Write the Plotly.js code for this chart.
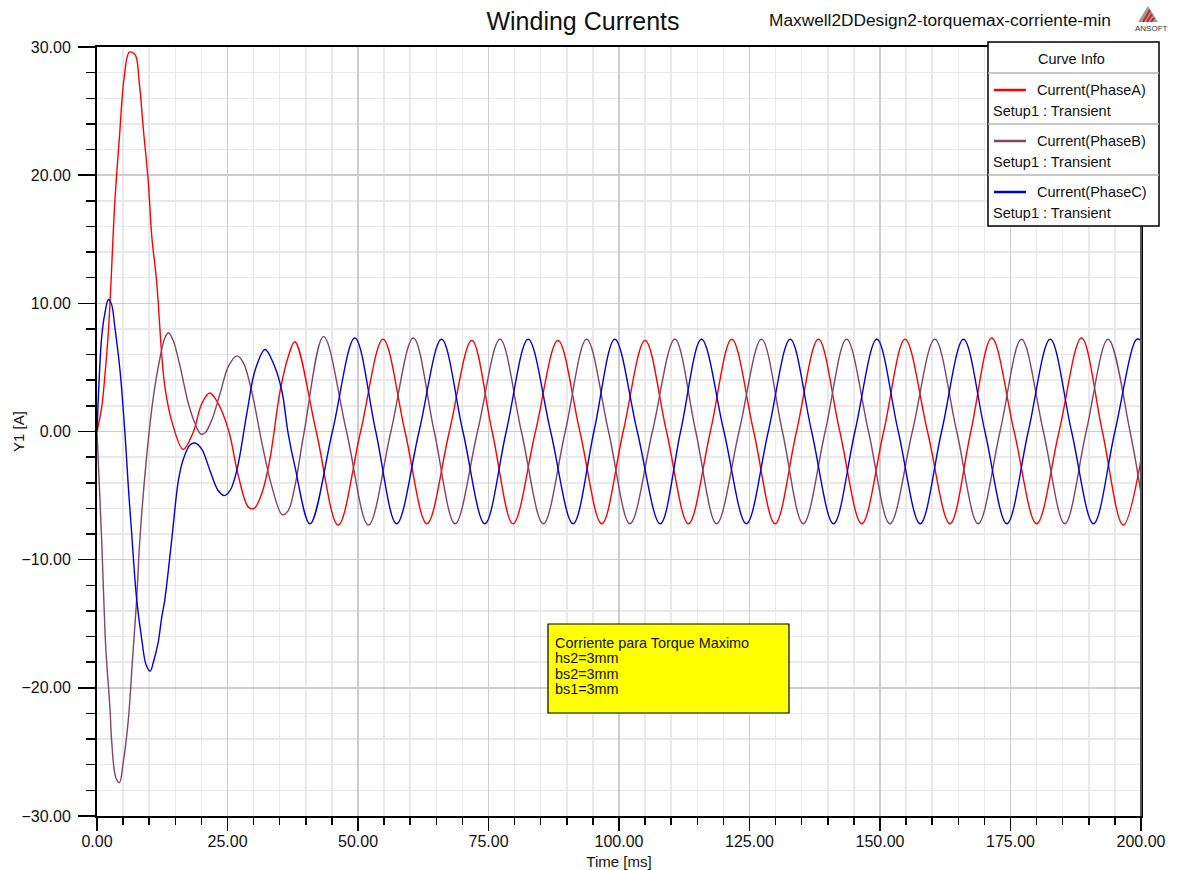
<!DOCTYPE html>
<html><head><meta charset="utf-8">
<script src="https://cdn.plot.ly/plotly-3.0.1.min.js"></script>
<style>html,body{margin:0;padding:0;background:#fff;} #chart{width:1179px;height:870px;}</style>
</head><body><div id="chart"></div>
<script>
// ---- data ----
const seriesNames = ['Current(PhaseA)', 'Current(PhaseB)', 'Current(PhaseC)'];
const setupLabel = 'Setup1 : Transient';
const noteLines = ['Corriente para Torque Maximo', 'hs2=3mm', 'bs2=3mm', 'bs1=3mm'];

const tA = [0,0.9,1.5,2.2,2.7,3.4,4.3,5.2,6.2,7.3,8.1,8.9,9.8,10.5,11.4,13.0,14.6,16.5,18.4,20.1,21.6,23.2,25.2,27.1,29.0,30.1,31.6,33.1,35.1,36.6,37.9,
  42.0,46.2,50.5,54.8,59.0,63.2,67.5,71.8,75.7,79.7,84.0,88.3,92.5,96.7,100.8,105.0,109.1,113.3,117.5,121.6,
  125.8,129.9,134.0,138.2,142.3,146.5,150.7,154.8,159.1,163.4,167.4,171.4,175.7,180.0,184.3,188.6,192.6,196.6,200];
const iA = [0,1.9,4.3,7.9,11.8,17.8,23.0,27.6,29.6,29.4,27.2,23.5,19.6,15.2,11.8,3.5,0.4,-1.4,-0.1,2.2,3.0,2.2,0.1,-3.5,-5.9,-6.0,-4.8,-2.2,3.2,5.8,7.0,
  0,-7.3,0,7.2,0,-7.2,0,7.1,0,-7.2,0,7.1,0,-7.2,0,7.1,0,-7.2,0,7.2,
  0,-7.2,0,7.2,0,-7.2,0,7.2,0,-7.2,0,7.3,0,-7.2,0,7.3,0,-7.3,-2.2];

const tB = [0,0.9,1.3,1.7,2.5,2.8,3.6,4.3,5.0,6.0,6.8,7.6,8.2,9.5,10.8,12.1,13.0,13.7,14.6,15.9,17.5,18.8,19.9,20.7,22.0,23.6,25.2,26.8,28.0,29.6,
  31.6,33.5,35.5,36.6,37.9,39.7,43.4,47.8,52.0,56.3,60.6,64.6,68.6,72.9,77.2,81.3,85.5,89.7,93.8,98.0,102.1,106.4,110.7,114.7,118.7,123.0,
  127.3,131.3,135.3,139.5,143.6,147.8,151.9,156.2,160.5,164.7,168.8,173.0,177.1,181.3,185.4,189.5,193.7,197.9,200];
const iB = [0,-8.5,-13.1,-17.0,-21.7,-24.1,-27.0,-27.4,-25.9,-22.5,-17.8,-13.1,-8.5,-2.0,2.7,5.8,7.3,7.7,7.1,5.1,2.2,0.6,-0.2,-0.1,0.9,3.0,5.1,5.9,5.4,3.2,
  -0.9,-4.3,-6.5,-6.2,-4.3,0,7.4,0,-7.3,0,7.3,0,-7.2,0,7.2,0,-7.2,0,7.2,0,-7.2,0,7.2,0,-7.2,0,
  7.2,0,-7.2,0,7.2,0,-7.2,0,7.2,0,-7.2,0,7.2,0,-7.2,0,7.2,0,-4.8];

const tC = [0,0.9,1.5,2.2,2.8,3.4,4.4,5.4,6.0,6.6,7.6,8.6,9.4,10.2,10.8,11.7,12.4,13.0,14.3,15.6,16.5,17.8,18.8,20.1,21.6,23.2,24.4,25.5,26.8,28.7,
  30.3,32.2,33.8,35.4,36.6,37.9,40.8,45.1,49.4,53.4,57.4,61.7,66.0,70.1,74.3,78.4,82.6,86.9,91.2,95.2,99.2,103.5,107.9,111.8,115.8,120.1,124.4,
  128.6,132.8,136.9,141.1,145.2,149.4,153.5,157.7,161.8,166.0,170.1,174.3,178.4,182.6,186.7,190.9,195.0,199.2,200];
const iC = [0,7.4,9.2,10.3,9.9,8.2,4.8,-0.4,-4.3,-7.7,-13.1,-16.3,-18.2,-18.7,-18.0,-16.5,-14.5,-13.1,-8.5,-3.8,-2.2,-1.05,-0.9,-1.4,-3.0,-4.6,-5.0,-4.6,-3.0,1.4,
  4.8,6.4,5.3,3.2,-0.1,-2.7,-7.2,0,7.3,0,-7.2,0,7.2,0,-7.2,0,7.2,0,-7.2,0,7.2,0,-7.2,0,7.2,0,-7.2,
  0,7.2,0,-7.2,0,7.2,0,-7.2,0,7.2,0,-7.2,0,7.2,0,-7.2,0,7.2,7.1];

// ---- styling ----
const FONT = 'Liberation Sans, Arial, sans-serif';
const colors = ['#ff0000', '#834466', '#0000dd'];
const L = 97, R = 1141, T = 47, B = 816;
function px(x) { return (x - L) / (R - L); }
function py(y) { return (B - y) / (B - T); }

const xs = [tA, tB, tC], ys = [iA, iB, iC];
const traces = xs.map((x, k) => ({
  x: x, y: ys[k], type: 'scatter', mode: 'lines', name: seriesNames[k],
  line: {color: colors[k], width: 1.4, shape: 'spline', smoothing: 1},
  showlegend: false, hoverinfo: 'skip'
}));

const shapes = [];
const annotations = [];

// right border drawn grey as in the reference
shapes.push({type:'line', xref:'paper', yref:'paper', x0:1, x1:1, y0:0, y1:1, line:{color:'#555', width:2}, layer:'above'});

// subtitle & logo
annotations.push({xref:'paper', yref:'paper', x:px(940), y:py(20), text:'Maxwell2DDesign2-torquemax-corriente-min',
  showarrow:false, xanchor:'center', yanchor:'middle', font:{family:FONT, size:17.3, color:'#111'}});
annotations.push({xref:'paper', yref:'paper', x:px(1151), y:py(28.5), text:'ANSOFT',
  showarrow:false, xanchor:'center', yanchor:'middle', font:{family:FONT, size:8, color:'#333'}});
shapes.push({type:'path', xref:'paper', yref:'paper', layer:'above',
  path:`M ${px(1138)},${py(22)} L ${px(1148)},${py(6)} L ${px(1158)},${py(22)} Z`,
  fillcolor:'#9a9a9a', line:{width:0}});
[[1143,22,1150,10],[1147,22,1152,14],[1151,22,1154,18]].forEach(s => shapes.push({type:'line', xref:'paper', yref:'paper',
  x0:px(s[0]), y0:py(s[1]), x1:px(s[2]), y1:py(s[3]), line:{color:'#d42020', width:2}}));

// legend box ("Curve Info")
shapes.push({type:'rect', xref:'paper', yref:'paper', x0:px(988), x1:px(1159), y0:py(42), y1:py(226),
  fillcolor:'#ffffff', line:{color:'#000', width:1.5}, layer:'above'});
[73,124,175].forEach(yy => shapes.push({type:'line', xref:'paper', yref:'paper', x0:px(988), x1:px(1159), y0:py(yy), y1:py(yy),
  line:{color:'#b4b4b4', width:1.5}}));
annotations.push({xref:'paper', yref:'paper', x:px(1071), y:py(59), text:'Curve Info', showarrow:false,
  xanchor:'center', yanchor:'middle', font:{family:FONT, size:14.5, color:'#111'}});
seriesNames.forEach((nm, k) => {
  const y0 = 90 + 51 * k;
  shapes.push({type:'line', xref:'paper', yref:'paper', x0:px(994), x1:px(1026), y0:py(y0), y1:py(y0),
    line:{color:colors[k], width:2.5}});
  annotations.push({xref:'paper', yref:'paper', x:px(1035), y:py(y0), text:nm, showarrow:false,
    xanchor:'left', yanchor:'middle', font:{family:FONT, size:14.5, color:'#111'}});
  annotations.push({xref:'paper', yref:'paper', x:px(991), y:py(y0 + 21), text:setupLabel, showarrow:false,
    xanchor:'left', yanchor:'middle', font:{family:FONT, size:14.5, color:'#111'}});
});

// yellow note box
shapes.push({type:'rect', xref:'paper', yref:'paper', x0:px(548), x1:px(789), y0:py(624), y1:py(713),
  fillcolor:'#ffff00', line:{color:'#000', width:1.2}, layer:'above'});
noteLines.forEach((ln, k) => annotations.push({xref:'paper', yref:'paper', x:px(553), y:py(643 + 15.4 * k), text:ln,
  showarrow:false, xanchor:'left', yanchor:'middle', font:{family:FONT, size:14.4, color:'#111'}}));

// y-axis title placed like the reference
annotations.push({xref:'paper', yref:'paper', x:px(18), y:py(432), text:'Y1 [A]', textangle:-90, showarrow:false,
  xanchor:'center', yanchor:'middle', font:{family:FONT, size:15, color:'#111'}});

const layout = {
  width: 1179, height: 870,
  margin: {l: L, r: 1179 - R, t: T, b: 870 - B, pad: 0},
  paper_bgcolor: '#fff', plot_bgcolor: '#fff',
  font: {family: FONT, color: '#111'},
  showlegend: false,
  title: {text: 'Winding Currents', font: {family: FONT, size: 25, color: '#111'},
    xref: 'container', yref: 'container', x: 583 / 1179, xanchor: 'center', y: 1 - 21 / 870, yanchor: 'middle'},
  xaxis: {
    range: [0, 200], tick0: 0, dtick: 25, tickformat: '.2f', ticks: 'outside', ticklen: 13, tickwidth: 1.5, tickcolor: '#000',
    showline: true, linecolor: '#000', linewidth: 2, mirror: true, zeroline: false,
    showgrid: true, gridcolor: '#cdcdcd', gridwidth: 1.5,
    minor: {dtick: 5, ticks: 'outside', ticklen: 7, tickwidth: 1.5, tickcolor: '#000', showgrid: true, gridcolor: '#e9e9e9', gridwidth: 1.5},
    tickfont: {family: FONT, size: 16, color: '#111'}, ticklabelstandoff: -3,
    title: {text: 'Time [ms]', font: {family: FONT, size: 15, color: '#111'}, standoff: 10},
    automargin: false
  },
  yaxis: {
    range: [-30, 30], tick0: 0, dtick: 10, tickformat: '.2f', ticks: 'outside', ticklen: 17, tickwidth: 1.5, tickcolor: '#000',
    showline: true, linecolor: '#000', linewidth: 2, mirror: true, zeroline: false,
    showgrid: true, gridcolor: '#cdcdcd', gridwidth: 1.5,
    minor: {dtick: 2, ticks: 'outside', ticklen: 9, tickwidth: 1.5, tickcolor: '#000', showgrid: true, gridcolor: '#e9e9e9', gridwidth: 1.5},
    tickfont: {family: FONT, size: 16, color: '#111'}, ticklabelstandoff: 4,
    automargin: false
  },
  shapes: shapes,
  annotations: annotations
};

Plotly.newPlot('chart', traces, layout, {displayModeBar: false, staticPlot: true});
</script>
</body></html>
